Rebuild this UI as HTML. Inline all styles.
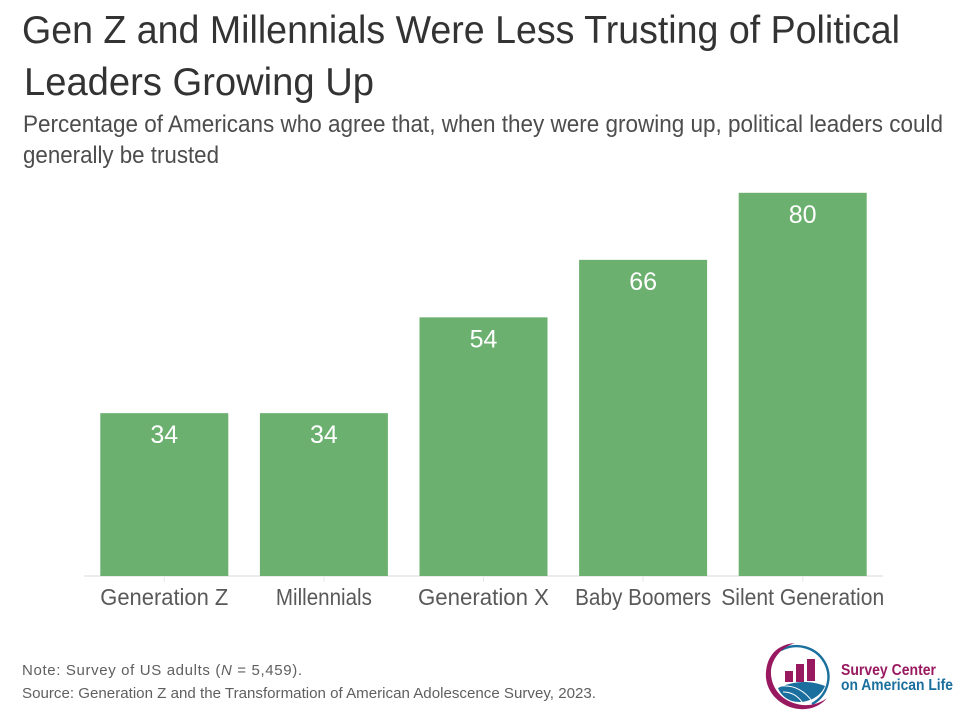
<!DOCTYPE html>
<html lang="en">
<head>
<meta charset="utf-8">
<title>Gen Z and Millennials Were Less Trusting of Political Leaders Growing Up</title>
<style>
html,body{margin:0;padding:0;background:#fff;}
svg{display:block;}
text{font-family:"Liberation Sans",sans-serif;}
</style>
</head>
<body>
<svg id="chart" width="960" height="723" viewBox="0 0 960 723" xmlns="http://www.w3.org/2000/svg">
  <rect x="0" y="0" width="960" height="723" fill="#ffffff"/>
  <text x="22" y="43" font-size="39" fill="#333333" textLength="878" lengthAdjust="spacingAndGlyphs">Gen Z and Millennials Were Less Trusting of Political</text>
  <text x="24" y="95" font-size="39" fill="#333333" textLength="350" lengthAdjust="spacingAndGlyphs">Leaders Growing Up</text>
  <text x="23" y="132" font-size="24" fill="#4d4d4d" textLength="920" lengthAdjust="spacingAndGlyphs">Percentage of Americans who agree that, when they were growing up, political leaders could</text>
  <text x="23" y="163" font-size="24" fill="#4d4d4d" textLength="196" lengthAdjust="spacingAndGlyphs">generally be trusted</text>

  <g id="plot"></g>

  <text x="22" y="675" font-size="15" fill="#5f5f5f" textLength="280" lengthAdjust="spacing">Note: Survey of US adults (<tspan font-style="italic">N</tspan> = 5,459).</text>
  <text x="22" y="698" font-size="15" fill="#5f5f5f" textLength="574" lengthAdjust="spacingAndGlyphs">Source: Generation Z and the Transformation of American Adolescence Survey, 2023.</text>

  <g>
    <path d="M 781 650 A 31 30 0 1 1 812 704" fill="none" stroke="#1a6f9e" stroke-width="2.4"/>
    <path d="M 795 643 C 772 645 765 662 766 678 C 768 698 788 711 806 709 C 816 708 823 703 827 698 C 819 704 808 707 797 704 C 780 700 770 686 771 670 C 773 656 783 647 795 643 Z" fill="#98195f"/>
    <rect x="785" y="671" width="8" height="11" fill="#98195f"/>
    <rect x="796" y="664" width="8" height="18" fill="#98195f"/>
    <rect x="807" y="659" width="8" height="22" fill="#98195f"/>
    <path d="M 778 688 C 790 682 808 679 825 686 C 821 696 810 702 799 702 C 789 702 781 696 778 688 Z" fill="#1a6f9e"/>
    <path d="M 781 686 C 792 685 803 689 812 701" fill="none" stroke="#ffffff" stroke-width="1"/>
    <path d="M 783 692 C 790 692 797 695 802 702" fill="none" stroke="#ffffff" stroke-width="1"/>
    <text x="841" y="675" font-size="15.5" font-weight="bold" fill="#98195f" textLength="95" lengthAdjust="spacingAndGlyphs">Survey Center</text>
    <text x="841" y="690" font-size="15.5" font-weight="bold" fill="#1a6f9e" textLength="112" lengthAdjust="spacingAndGlyphs">on American Life</text>
  </g>
</svg>
<script>
var categories = ["Generation Z", "Millennials", "Generation X", "Baby Boomers", "Silent Generation"];
var values = [34, 34, 54, 66, 80];

var NS = "http://www.w3.org/2000/svg";
var plot = document.getElementById("plot");
var plotLeft = 84.5, bandStep = 159.6, barWidth = 128;
var baseY = 576, unit = 4.79;

function xCenter(i) { return plotLeft + bandStep * (i + 0.5); }
function yScale(v) { return baseY - v * unit; }
function make(tag, attrs) {
  var el = document.createElementNS(NS, tag);
  for (var k in attrs) { el.setAttribute(k, attrs[k]); }
  return el;
}

var axis = make("line", { x1: 84, x2: 883, y1: baseY, y2: baseY, stroke: "#e6e6e6", "stroke-width": 1.5 });


plot.appendChild(axis);

categories.forEach(function (name, i) {
  var cx = xCenter(i);

  var tick = make("line", { x1: cx, x2: cx, y1: baseY, y2: baseY + 6, stroke: "#e6e6e6", "stroke-width": 1 });
  
  
  plot.appendChild(tick);

  var top = yScale(values[i]);
  var bar = make("rect", { x: cx - barWidth / 2, y: top, width: barWidth, height: baseY - top, fill: "#6bb06f" });
  
  
  plot.appendChild(bar);

  var val = make("text", { x: cx, y: top + 30, "font-size": 25, fill: "#ffffff", "text-anchor": "middle" });
  
  
  val.textContent = values[i];
  plot.appendChild(val);

  var label = make("text", { x: cx, y: 605, "font-size": 23, fill: "#595959", "text-anchor": "middle" });
  
  
  label.textContent = name;
  plot.appendChild(label);
  var target = [128, 96, 131, 136, 163][i];
  label.setAttribute("textLength", target);
  label.setAttribute("lengthAdjust", "spacingAndGlyphs");
});
</script>
</body>
</html>
